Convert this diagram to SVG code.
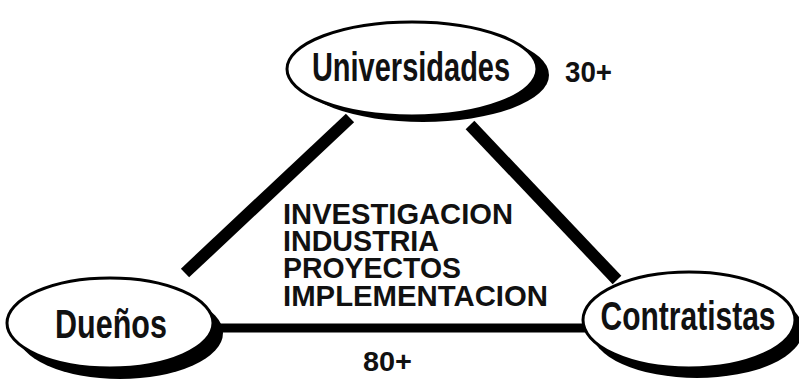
<svg xmlns="http://www.w3.org/2000/svg" width="799" height="382" viewBox="0 0 799 382">
<style>
.bg{fill:#ffffff}
.shadow{fill:#000000}
.node{fill:#ffffff;stroke:#000000;stroke-width:3}
.lbl{font-family:"Liberation Sans",Arial,sans-serif;font-weight:bold;fill:#111111}
.mid{font-size:30px}
.conn{stroke:#000000;fill:none;stroke-linecap:butt}
</style>
<rect class="bg" x="0" y="0" width="799" height="382"/>
<g id="connectors">
<line class="conn" x1="350" y1="118" x2="185" y2="273" stroke-width="12"/>
<line class="conn" x1="470" y1="125" x2="617" y2="280" stroke-width="12"/>
<line class="conn" x1="205" y1="328" x2="590" y2="328" stroke-width="9"/>
</g>
<g id="universidades">
<ellipse class="shadow" cx="423" cy="75" rx="126" ry="47"/>
<ellipse class="node" cx="412" cy="69" rx="125" ry="47"/>
<text class="lbl" transform="translate(411,81) scale(1,1.42)" x="0" y="0" font-size="29" text-anchor="middle">Universidades</text>
</g>
<g id="duenos">
<ellipse class="shadow" cx="120" cy="333" rx="103" ry="46"/>
<ellipse class="node" cx="110" cy="323" rx="103" ry="45"/>
<text class="lbl" transform="translate(111,338) scale(1,1.33)" x="0" y="0" font-size="30.5" text-anchor="middle">Dueños</text>
</g>
<g id="contratistas">
<ellipse class="shadow" cx="697" cy="330" rx="106" ry="48"/>
<ellipse class="node" cx="689" cy="320" rx="106" ry="48"/>
<text class="lbl" transform="translate(688,330) scale(1,1.35)" x="0" y="0" font-size="30" text-anchor="middle">Contratistas</text>
</g>
<g id="labels">
<text class="lbl" x="565" y="82" font-size="30" textLength="47" lengthAdjust="spacingAndGlyphs">30+</text>
<text class="lbl" x="363" y="371" font-size="27" textLength="49" lengthAdjust="spacingAndGlyphs">80+</text>
</g>
<g id="center-text">
<text class="lbl mid"><tspan x="283" y="224" textLength="230" lengthAdjust="spacingAndGlyphs">INVESTIGACION</tspan><tspan x="283" y="251" textLength="156" lengthAdjust="spacingAndGlyphs">INDUSTRIA</tspan><tspan x="283" y="278" textLength="178" lengthAdjust="spacingAndGlyphs">PROYECTOS</tspan><tspan x="283" y="306" textLength="265" lengthAdjust="spacingAndGlyphs">IMPLEMENTACION</tspan></text>
</g>
</svg>
